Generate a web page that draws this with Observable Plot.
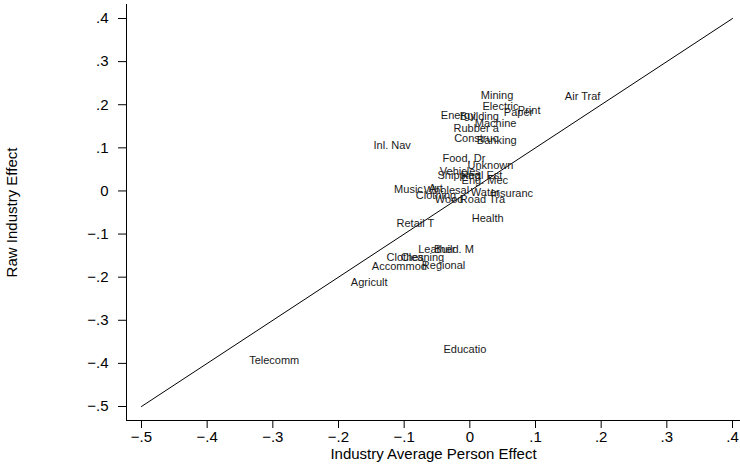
<!DOCTYPE html>
<html><head><meta charset="utf-8">
<script src="https://cdn.jsdelivr.net/npm/d3@7"></script>
<script src="https://cdn.jsdelivr.net/npm/@observablehq/plot@0.6"></script>
<style>body{margin:0;background:#fff}</style>
</head><body><div id="chart"></div>
<script>
const industries = ["Mining","Electric","Paper","Print","Energy","Building","Machine","Rubber a","Construc","Banking","Inl. Nav","Air Traf","Food, Dr","Unknown","Vehicles","Shipping","Real Est","Eng. Mec","Music","Art","Wholesal","Water","Insuranc","Clothing","Wood","Road Tra","Health","Retail T","Leather","Build. M","Clothes","Cleaning","Accommod","Regional","Agricult","Telecomm","Educatio"];
const personEffect = [0.0168,0.0193,0.0518,0.0731,-0.0442,-0.0152,0.0076,-0.0248,-0.0239,0.0107,-0.1466,0.1447,-0.0416,-0.0035,-0.0457,-0.0492,-0.0137,-0.0126,-0.1153,-0.0624,-0.0700,0.0015,0.0320,-0.0822,-0.0533,-0.0152,0.0030,-0.1116,-0.0787,-0.0544,-0.1268,-0.1051,-0.1492,-0.0731,-0.1812,-0.3361,-0.0401];
const rawEffect = [0.2219,0.1963,0.1831,0.1870,0.1754,0.1738,0.1568,0.1445,0.1213,0.1173,0.1057,0.2196,0.0748,0.0592,0.0460,0.0360,0.0360,0.0244,0.0028,0.0046,0.0012,-0.0028,-0.0051,-0.0105,-0.0204,-0.0204,-0.0646,-0.0762,-0.1366,-0.1366,-0.1538,-0.1545,-0.1754,-0.1731,-0.2133,-0.3922,-0.3666];
const tickValues = [-0.5,-0.4,-0.3,-0.2,-0.1,0,0.1,0.2,0.3,0.4];
const tickLabels = ["\u2212.5","\u2212.4","\u2212.3","\u2212.2","\u2212.1","0",".1",".2",".3",".4"];
const diagonal = [-0.5, 0.4];

const fmt = d => tickLabels[tickValues.findIndex(t => Math.abs(t - d) < 1e-9)];
const idx = industries.map((_, i) => i);

const chart = Plot.plot({
  width: 740, height: 470,
  marginLeft: 126, marginRight: 0, marginTop: 4, marginBottom: 50,
  insetLeft: 15, insetRight: 8, insetTop: 14, insetBottom: 14,
  style: {fontFamily: "'Liberation Sans', Arial, sans-serif", fontSize: "15px", color: "#000", background: "#fff"},
  x: {domain: [-0.5, 0.4], ticks: tickValues, tickFormat: fmt, tickSize: 8, tickPadding: 3,
      label: "Industry Average Person Effect", labelAnchor: "center", labelOffset: 38, labelArrow: "none"},
  y: {domain: [-0.5, 0.4], ticks: tickValues, tickFormat: fmt, tickSize: 8, tickPadding: 10,
      label: "Raw Industry Effect", labelAnchor: "center", labelOffset: 120, labelArrow: "none"},
  marks: [
    Plot.frame({anchor: "left", stroke: "#000"}),
    Plot.frame({anchor: "bottom", stroke: "#000"}),
    Plot.line(diagonal, {x: d => d, y: d => d, stroke: "#000", strokeWidth: 1}),
    Plot.text(idx, {x: i => personEffect[i], y: i => rawEffect[i], text: i => industries[i],
      textAnchor: "start", fontSize: 11, fill: "#1a1a1a"})
  ]
});
document.getElementById("chart").appendChild(chart);
</script>
</body></html>
